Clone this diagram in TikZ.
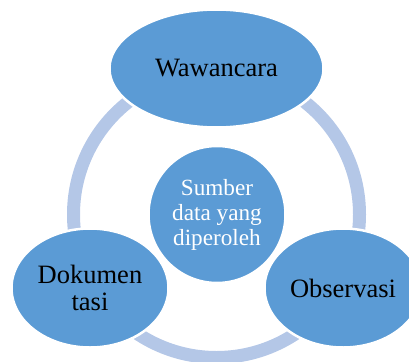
\documentclass[tikz,border=0pt]{standalone}
\usepackage{fontspec}
\setmainfont{Liberation Serif}
\usetikzlibrary{shapes.geometric}
\definecolor{blob}{HTML}{5B9BD5}
\definecolor{ringc}{HTML}{B4C7E7}
\tikzset{
  blobnode/.style={ellipse, fill=blob, draw=white, line width=2.5pt, inner sep=0pt, align=center, font=\fontsize{26.5}{27}\selectfont, text=black},
  ringnode/.style={circle, draw=ringc, line width=13pt, minimum size=286pt, inner sep=0pt},
}
\begin{document}
\begin{tikzpicture}[x=1pt,y=-1pt]
\useasboundingbox (0,0) rectangle (409,361);
\clip (0,0) rectangle (409,361);
\node[ringnode] (ring) at (216.5,214.5) {};
\node[blobnode, minimum width=214pt, minimum height=118pt] (top) at (216.5,68.5) {Wawancara};
\node[blobnode, minimum width=157pt, minimum height=119pt] (left) at (90,288) {Dokumen\\tasi};
\node[blobnode, minimum width=157pt, minimum height=119pt] (right) at (343,288) {Observasi};
\node[blobnode, circle, minimum size=137pt, text=white, font=\fontsize{23.2}{25}\selectfont] (center) at (217,214.5) {Sumber\\data yang\\diperoleh};
\end{tikzpicture}
\end{document}
